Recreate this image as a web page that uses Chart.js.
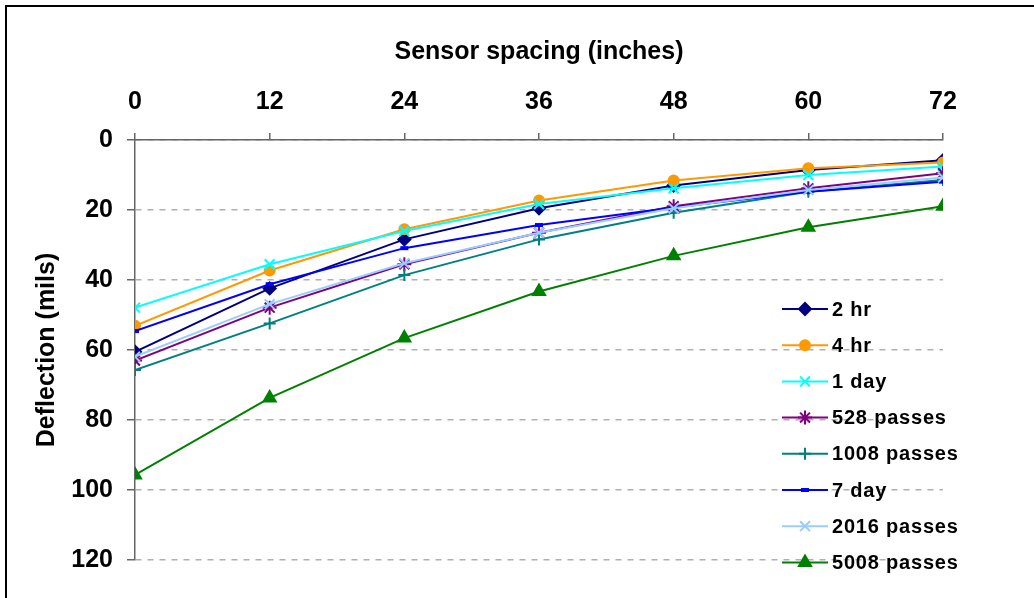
<!DOCTYPE html>
<html>
<head>
<meta charset="utf-8">
<script src="https://cdn.jsdelivr.net/npm/chart.js@4.4.1/dist/chart.umd.min.js"></script>
<style>
  html, body { margin: 0; padding: 0; background: #fff; }
  #wrap { width: 1034px; height: 598px; position: relative; }
</style>
</head>
<body>
<div id="wrap"><canvas id="deflectionChart" width="1034" height="598"></canvas></div>
<script>
// sensor spacing (inches)
const spacing = [0, 12, 24, 36, 48, 60, 72];
const yTicks = [0, 20, 40, 60, 80, 100, 120];

// deflection (mils)
const hr2      = [60.5, 42.4, 28.4, 19.5, 13.0, 8.6, 5.8];
const hr4      = [53.1, 37.3, 25.5, 17.3, 11.6, 8.1, 6.4];
const day1     = [47.9, 35.5, 26.0, 18.3, 13.8, 10.0, 7.6];
const passes528  = [63.0, 47.9, 35.5, 26.5, 18.9, 13.8, 9.5];
const passes1008 = [65.7, 52.4, 38.6, 28.4, 20.8, 14.8, 11.4];
const day7     = [54.6, 41.2, 30.9, 24.3, 19.3, 14.8, 11.9];
const passes2016 = [61.9, 46.9, 35.2, 26.5, 19.5, 14.3, 10.7];
const passes5008 = [95.7, 73.7, 56.6, 43.3, 33.1, 24.9, 18.9];

const seriesNames = ['2 hr', '4 hr', '1 day', '528 passes', '1008 passes', '7 day', '2016 passes', '5008 passes'];
const seriesValues = [hr2, hr4, day1, passes528, passes1008, day7, passes2016, passes5008];
const seriesColors = ['#000080', '#FF9900', '#00FFFF', '#800080', '#008080', '#0000FF', '#99CCFF', '#008000'];
const seriesMarkers = ['rectRot', 'circle', 'crossRot', 'star', 'cross', 'line', 'crossRot', 'triangle'];
const markerSizes = [6, 5, 7, 7, 6, 4, 7, 7];

const FONT = "'Liberation Sans', Arial, sans-serif";

const datasets = seriesNames.map((name, i) => ({
    label: name,
    data: spacing.map((x, j) => ({ x: x, y: seriesValues[i][j] })),
    borderColor: seriesColors[i],
    backgroundColor: seriesColors[i],
    pointBorderColor: seriesColors[i],
    pointBackgroundColor: seriesColors[i],
    pointStyle: seriesMarkers[i],
    pointRadius: markerSizes[i],
    pointBorderWidth: seriesMarkers[i] === 'line' ? 4 : 2,
    borderWidth: 2,
    tension: 0,
    order: seriesNames.length - i
}));

// legend drawn inside the plot, on the right
const sideLegend = {
    id: 'sideLegend',
    afterDraw(chart) {
        const ctx = chart.ctx;
        ctx.save();
        datasets.forEach((ds, i) => {
            const y = 309 + i * 36.2;
            ctx.strokeStyle = ds.borderColor;
            ctx.lineWidth = 2;
            ctx.beginPath();
            ctx.moveTo(782, y);
            ctx.lineTo(828, y);
            ctx.stroke();
            ctx.fillStyle = ds.borderColor;
            ctx.lineWidth = ds.pointBorderWidth;
            Chart.helpers.drawPoint(ctx, {
                pointStyle: ds.pointStyle,
                radius: ds.pointRadius,
                borderWidth: ds.pointBorderWidth,
                rotation: 0
            }, 805, y);
            ctx.fillStyle = '#000';
            ctx.font = 'bold 20px ' + FONT;
            ctx.letterSpacing = '0.8px';
            ctx.textBaseline = 'middle';
            ctx.textAlign = 'left';
            ctx.fillText(ds.label, 832, y + 1);
        });
        ctx.restore();
    }
};

const frame = {
    id: 'frame',
    beforeDraw(chart) {
        const ctx = chart.ctx;
        ctx.save();
        ctx.fillStyle = '#fff';
        ctx.fillRect(0, 0, chart.width, chart.height);
        ctx.strokeStyle = '#000';
        ctx.lineWidth = 2;
        ctx.strokeRect(6, 6, 1060, 640);
        ctx.restore();
    }
};

new Chart(document.getElementById('deflectionChart').getContext('2d'), {
    type: 'line',
    data: { datasets: datasets },
    options: {
        responsive: false,
        animation: false,
        layout: { padding: { left: 0, top: 0, right: 91, bottom: 38 } },
        plugins: {
            legend: { display: false },
            tooltip: { enabled: false }
        },
        scales: {
            x: {
                type: 'linear',
                position: 'top',
                min: 0,
                max: 72,
                afterBuildTicks(scale) { scale.ticks = spacing.map(v => ({ value: v })); },
                afterFit(scale) { scale.height = 140; },
                grid: { drawOnChartArea: false, drawTicks: true, tickLength: 7, color: '#666', tickColor: '#666', lineWidth: 1.5 },
                border: { color: '#666', width: 1.5 },
                ticks: { color: '#000', padding: 16, maxRotation: 0, font: { family: FONT, size: 25, weight: 'bold' } },
                title: {
                    display: true,
                    text: 'Sensor spacing (inches)',
                    color: '#000',
                    padding: { top: 37, bottom: 0 },
                    font: { family: FONT, size: 25, weight: 'bold' }
                }
            },
            y: {
                type: 'linear',
                reverse: true,
                min: 0,
                max: 120,
                afterBuildTicks(scale) { scale.ticks = yTicks.map(v => ({ value: v })); },
                afterFit(scale) { scale.width = 135; },
                grid: { color: '#b0b0b0', lineWidth: 1.5, tickColor: '#666', tickLength: 8, tickWidth: 1.5 },
                border: { color: '#666', width: 1.5, dash: [6, 6] },
                ticks: { color: '#000', padding: 14, font: { family: FONT, size: 25, weight: 'bold' } },
                title: {
                    display: true,
                    text: 'Deflection (mils)',
                    color: '#000',
                    padding: { top: 32, bottom: 0 },
                    font: { family: FONT, size: 25, weight: 'bold' }
                }
            }
        }
    },
    plugins: [frame, sideLegend]
});
</script>
</body>
</html>
